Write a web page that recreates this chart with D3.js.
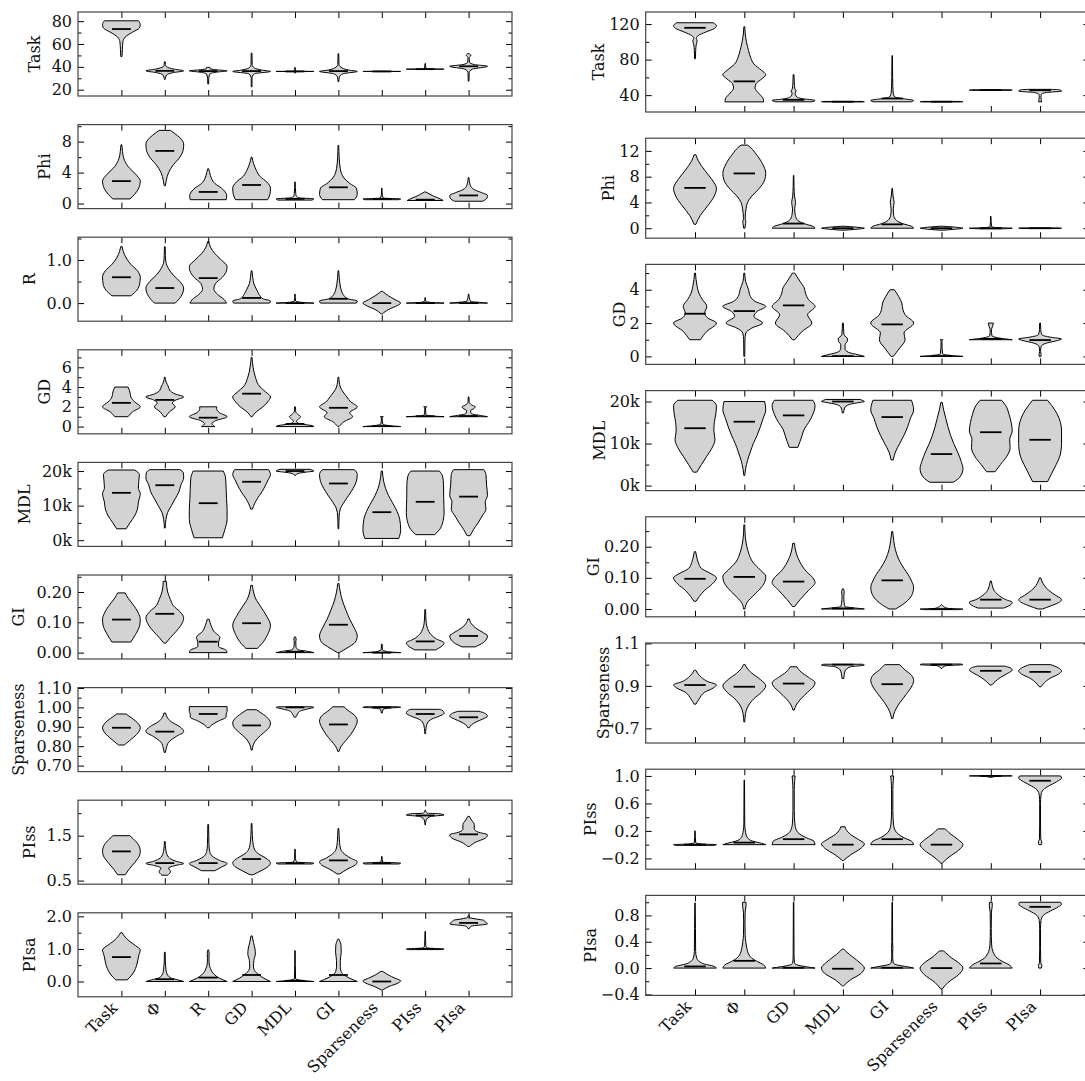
<!DOCTYPE html>
<html>
<head>
<meta charset="utf-8">
<script src="https://cdn.jsdelivr.net/npm/d3@7"></script>
<style>
  body { margin: 0; background: #fff; }
  text { font-family: 'DejaVu Serif', serif; }
</style>
</head>
<body>
<script>
// categories along x
const leftCats = ['Task', 'Φ', 'R', 'GD', 'MDL', 'GI', 'Sparseness', 'PIss', 'PIsa'];
const rightCats = ['Task', 'Φ', 'GD', 'MDL', 'GI', 'Sparseness', 'PIss', 'PIsa'];

// each violin: [median, [[value, relative half width], ...]]
const leftTask = [
  [73.1, [[49,0.03],[55,0.05],[62,0.08],[66,0.2],[70,0.55],[74,0.95],[77,1],[80.3,0.9]]],
  [36.5, [[29,0.02],[33,0.1],[35,0.45],[36.5,1],[38,0.5],[40,0.1],[42,0.03],[44.5,0.02]]],
  [36.3, [[25,0.02],[30,0.03],[34,0.1],[35.5,0.5],[36.5,1],[37.5,0.4],[38.4,0.1],[39,0.12],[39.6,0.05]]],
  [36.3, [[22.5,0.02],[30,0.02],[34,0.15],[36,1],[37,0.6],[39,0.15],[42,0.03],[52,0.02]]],
  [36, [[34.5,0.01],[35.8,0.05],[36,1],[36.2,0.05],[39.5,0.01]]],
  [36.3, [[27,0.02],[31,0.05],[34,0.25],[36,1],[37,0.6],[39,0.2],[42,0.03],[51.5,0.02]]],
  [36, [[35.85,0.05],[36,1],[36.15,0.05]]],
  [38, [[37.8,0.05],[38,1],[38.2,0.05],[43,0.01]]],
  [40.5, [[27.5,0.02],[35,0.03],[38,0.2],[40.5,1],[42,0.3],[44,0.05],[48,0.03],[50,0.12],[51.5,0.05]]]
];
const leftPhi = [
  [2.9, [[0.6,0.45],[1.2,0.7],[2,0.92],[2.9,1],[3.8,0.75],[4.8,0.35],[5.8,0.13],[6.7,0.06],[7.6,0.02]]],
  [6.8, [[2.3,0.03],[3,0.08],[4,0.2],[5,0.45],[6,0.8],[7,0.98],[7.7,1],[8.5,0.8],[9.1,0.5],[9.45,0.3]]],
  [1.5, [[0.5,0.95],[1,0.98],[1.5,0.9],[2,0.7],[2.6,0.35],[3.2,0.18],[4,0.08],[4.5,0.02]]],
  [2.4, [[0.5,0.85],[1.2,0.97],[2,1],[2.8,0.8],[3.5,0.45],[4.3,0.25],[5.2,0.1],[6,0.02]]],
  [0.6, [[0.45,0.9],[0.6,1],[0.75,0.2],[1,0.06],[1.3,0.04],[2.8,0.01]]],
  [2.1, [[0.5,0.85],[1.2,1],[2,0.95],[2.6,0.6],[3.3,0.3],[4.5,0.1],[6,0.04],[7.5,0.02]]],
  [0.6, [[0.5,0.9],[0.6,1],[0.7,0.1],[1,0.03],[2,0.01]]],
  [0.5, [[0.4,0.95],[0.6,0.8],[0.9,0.5],[1.2,0.25],[1.5,0.03]]],
  [1.05, [[0.3,0.75],[0.7,0.97],[1.05,1],[1.4,0.7],[1.8,0.3],[2.3,0.1],[3.35,0.02]]]
];
const leftR = [
  [0.6, [[0.17,0.5],[0.3,0.82],[0.45,0.97],[0.6,1],[0.75,0.85],[0.9,0.5],[1.05,0.25],[1.2,0.1],[1.31,0.04]]],
  [0.35, [[0,0.55],[0.15,0.85],[0.35,1],[0.5,0.8],[0.65,0.45],[0.8,0.2],[0.95,0.06],[1.1,0.03],[1.31,0.02]]],
  [0.58, [[0,0.97],[0.08,0.85],[0.2,0.5],[0.32,0.3],[0.45,0.38],[0.6,0.75],[0.75,0.97],[0.85,1],[1,0.7],[1.15,0.35],[1.3,0.12],[1.43,0.03]]],
  [0.12, [[0,0.95],[0.05,1],[0.1,0.6],[0.2,0.4],[0.3,0.28],[0.45,0.12],[0.6,0.06],[0.75,0.02]]],
  [0, [[0,1],[0.02,0.3],[0.05,0.03],[0.21,0.01]]],
  [0.1, [[0,0.95],[0.05,1],[0.1,0.5],[0.2,0.25],[0.3,0.15],[0.45,0.08],[0.6,0.04],[0.75,0.02]]],
  [0, [[-0.25,0.03],[-0.15,0.35],[-0.05,0.85],[0,1],[0.08,0.7],[0.17,0.35],[0.25,0.1],[0.27,0.05]]],
  [0, [[0,1],[0.02,0.2],[0.05,0.02],[0.13,0.01]]],
  [0, [[0,1],[0.02,0.5],[0.04,0.1],[0.21,0.01]]]
];
const leftGD = [
  [2.4, [[1,0.35],[1.5,0.6],[2,1],[2.5,0.7],[3,0.5],[3.5,0.45],[4,0.35]]],
  [2.7, [[1,0.05],[1.5,0.25],[2,0.55],[2.4,0.4],[2.7,0.6],[3,1],[3.3,0.55],[3.7,0.25],[4,0.2],[4.5,0.07],[5,0.02]]],
  [0.9, [[0,0.35],[0.3,0.2],[0.6,0.4],[1,1],[1.4,0.6],[1.8,0.45],[2,0.45]]],
  [3.33, [[1,0.03],[1.5,0.25],[2,0.6],[2.5,0.85],[3,1],[3.5,0.75],[4,0.45],[5,0.2],[6,0.08],[7,0.02]]],
  [0.27, [[0,1],[0.1,0.9],[0.25,0.35],[0.5,0.08],[0.8,0.2],[1,0.3],[1.2,0.18],[1.5,0.04],[2,0.02]]],
  [1.9, [[0,0.03],[0.5,0.3],[1,0.75],[1.4,0.6],[2,1],[2.5,0.65],[3,0.45],[3.5,0.25],[4,0.1],[5,0.02]]],
  [0.05, [[0,1],[0.1,0.4],[0.25,0.05],[0.9,0.02],[1,0.08]]],
  [1.05, [[1,1],[1.1,0.2],[1.25,0.03],[1.9,0.02],[2,0.08]]],
  [1.07, [[1,1],[1.1,0.7],[1.3,0.15],[1.6,0.1],[1.85,0.3],[2,0.35],[2.2,0.15],[2.5,0.03],[3,0.02]]]
];
// MDL values in thousands
const leftMDL = [
  [13.7, [[3.3,0.25],[5,0.45],[7,0.7],[9,0.85],[11,0.9],[13.5,1],[15,0.9],[17,0.92],[19,0.95],[20.3,0.7]]],
  [15.9, [[3.5,0.02],[6,0.06],[8,0.15],[10,0.35],[12,0.55],[14,0.75],[16,0.85],[18,1],[19.5,0.98],[20.4,0.8]]],
  [10.7, [[0.7,0.75],[3,0.88],[6,1],[9,1],[12,0.97],[15,0.95],[18,0.92],[20,0.8]]],
  [16.9, [[9,0.05],[10.5,0.15],[12,0.3],[14,0.55],[16,0.75],[17.5,0.88],[19,1],[20.4,0.9]]],
  [20, [[18.8,0.04],[19.3,0.15],[19.7,0.6],[20,1],[20.3,0.9],[20.5,0.8]]],
  [16.4, [[3.3,0.02],[7,0.04],[9,0.1],[11,0.3],[13,0.55],[15,0.78],[17,0.95],[19,1],[20.4,0.85]]],
  [8.1, [[0.5,0.9],[3,1],[6,0.95],[9,0.75],[11,0.55],[13,0.35],[15,0.2],[17,0.1],[20,0.03]]],
  [11.1, [[1.6,0.5],[3,0.75],[5,0.92],[8,1],[12,0.98],[16,0.97],[18.5,0.92],[20,0.75]]],
  [12.6, [[1.3,0.08],[3,0.25],[5,0.5],[7,0.72],[9,0.92],[11,0.88],[13,1],[16,0.95],[19,0.92],[20.4,0.8]]]
];
const leftGI = [
  [0.109, [[0.035,0.5],[0.06,0.75],[0.09,0.97],[0.11,1],[0.13,0.9],[0.16,0.6],[0.18,0.35],[0.197,0.2]]],
  [0.128, [[0.031,0.05],[0.05,0.3],[0.07,0.6],[0.09,0.85],[0.115,1],[0.135,0.8],[0.155,0.45],[0.175,0.3],[0.2,0.15],[0.235,0.08]]],
  [0.036, [[0,1],[0.008,0.95],[0.02,0.55],[0.035,0.55],[0.05,0.62],[0.07,0.3],[0.09,0.15],[0.11,0.05]]],
  [0.097, [[0.014,0.3],[0.03,0.55],[0.06,0.85],[0.09,1],[0.12,0.8],[0.15,0.5],[0.18,0.2],[0.2,0.1],[0.222,0.04]]],
  [0.003, [[0,1],[0.004,0.7],[0.01,0.15],[0.02,0.05],[0.035,0.04],[0.045,0.06],[0.052,0.02]]],
  [0.092, [[0,0.05],[0.015,0.45],[0.035,0.9],[0.055,1],[0.08,0.85],[0.11,0.6],[0.14,0.4],[0.17,0.22],[0.2,0.1],[0.228,0.03]]],
  [0, [[0,1],[0.003,0.3],[0.01,0.03],[0.028,0.02]]],
  [0.037, [[0.009,0.55],[0.02,0.85],[0.032,1],[0.045,0.6],[0.06,0.3],[0.08,0.12],[0.1,0.05],[0.142,0.02]]],
  [0.055, [[0.019,0.35],[0.03,0.7],[0.045,0.95],[0.055,1],[0.065,0.8],[0.08,0.4],[0.095,0.15],[0.111,0.04]]]
];
const leftSparse = [
  [0.895, [[0.806,0.15],[0.83,0.45],[0.86,0.8],[0.895,1],[0.93,0.75],[0.955,0.4],[0.966,0.25]]],
  [0.875, [[0.768,0.03],[0.79,0.08],[0.82,0.2],[0.85,0.6],[0.875,1],[0.9,0.8],[0.925,0.35],[0.95,0.12],[0.971,0.04]]],
  [0.966, [[0.895,0.05],[0.91,0.2],[0.93,0.55],[0.95,0.95],[0.965,0.95],[0.98,1],[1.004,1]]],
  [0.907, [[0.78,0.03],[0.81,0.1],[0.84,0.3],[0.87,0.65],[0.9,0.95],[0.92,1],[0.95,0.8],[0.975,0.45],[0.988,0.25]]],
  [1.0, [[0.949,0.03],[0.96,0.1],[0.98,0.25],[0.995,0.8],[1.0,1],[1.003,0.9]]],
  [0.912, [[0.773,0.03],[0.8,0.15],[0.83,0.4],[0.86,0.65],[0.9,0.9],[0.93,1],[0.96,0.85],[0.985,0.5],[1.003,0.3]]],
  [1.0, [[0.971,0.02],[0.99,0.08],[0.998,0.6],[1.0,1],[1.003,0.9]]],
  [0.966, [[0.864,0.02],[0.89,0.04],[0.92,0.12],[0.94,0.35],[0.955,0.75],[0.97,1],[0.985,0.9],[0.99,0.75]]],
  [0.949, [[0.895,0.04],[0.91,0.15],[0.925,0.4],[0.94,0.75],[0.955,1],[0.97,0.85],[0.98,0.55]]]
];
const leftPIss = [
  [1.15, [[0.63,0.2],[0.75,0.4],[0.9,0.7],[1.05,0.95],[1.15,1],[1.3,0.9],[1.42,0.65],[1.5,0.45]]],
  [0.89, [[0.62,0.15],[0.7,0.3],[0.78,0.2],[0.84,0.6],[0.88,1],[0.93,0.6],[1,0.25],[1.1,0.1],[1.2,0.05],[1.37,0.02]]],
  [0.89, [[0.72,0.35],[0.8,0.7],[0.88,1],[0.95,0.6],[1.05,0.2],[1.15,0.08],[1.3,0.04],[1.5,0.03],[1.75,0.02]]],
  [0.98, [[0.63,0.08],[0.72,0.5],[0.82,0.9],[0.9,1],[1,0.75],[1.1,0.35],[1.2,0.15],[1.35,0.07],[1.5,0.04],[1.77,0.02]]],
  [0.89, [[0.87,0.9],[0.89,1],[0.91,0.1],[1,0.02],[1.2,0.01]]],
  [0.95, [[0.65,0.08],[0.75,0.45],[0.85,0.9],[0.92,1],[1,0.65],[1.1,0.3],[1.2,0.12],[1.35,0.06],[1.5,0.04],[1.66,0.02]]],
  [0.89, [[0.87,0.9],[0.89,1],[0.91,0.05],[1.04,0.01]]],
  [1.95, [[1.74,0.01],[1.85,0.05],[1.93,0.3],[1.96,1],[1.99,0.7],[2,0.1],[2.07,0.01]]],
  [1.53, [[1.26,0.05],[1.35,0.35],[1.45,0.9],[1.52,1],[1.58,0.5],[1.65,0.3],[1.75,0.3],[1.85,0.15],[1.93,0.04]]]
];
const leftPIsa = [
  [0.75, [[0.05,0.3],[0.2,0.55],[0.4,0.75],[0.6,0.85],[0.8,0.92],[0.97,1],[1.1,0.75],[1.25,0.4],[1.4,0.15],[1.5,0.04]]],
  [0.07, [[0,1],[0.05,0.7],[0.1,0.35],[0.2,0.15],[0.3,0.08],[0.45,0.05],[0.6,0.03],[0.9,0.02]]],
  [0.12, [[0,1],[0.1,0.6],[0.2,0.35],[0.3,0.2],[0.4,0.12],[0.5,0.06],[0.7,0.04],[0.85,0.05],[0.97,0.02]]],
  [0.2, [[0,1],[0.1,0.65],[0.2,0.4],[0.3,0.2],[0.45,0.1],[0.65,0.12],[0.85,0.2],[1,0.18],[1.2,0.1],[1.4,0.03]]],
  [0.02, [[0,1],[0.04,0.3],[0.08,0.03],[0.95,0.01]]],
  [0.2, [[0,1],[0.1,0.6],[0.2,0.3],[0.3,0.15],[0.45,0.1],[0.65,0.1],[0.9,0.15],[1.1,0.14],[1.3,0.03]]],
  [0, [[-0.26,0.04],[-0.15,0.4],[-0.05,0.85],[0.02,1],[0.1,0.7],[0.2,0.35],[0.31,0.05]]],
  [1, [[0.98,0.9],[1,1],[1.03,0.1],[1.1,0.03],[1.3,0.02],[1.54,0.01]]],
  [1.8, [[1.62,0.03],[1.7,0.15],[1.77,1],[1.82,0.9],[1.88,0.8],[1.92,0.4],[1.97,0.05],[2.03,0.02]]]
];

const rightTask = [
  [115.8, [[81,0.02],[90,0.03],[97,0.06],[101,0.1],[104,0.06],[107,0.15],[111,0.5],[115,0.9],[118,1],[121.5,0.85]]],
  [55.5, [[32.4,0.9],[36,0.88],[40,0.75],[44,0.6],[48,0.5],[53,0.55],[58,0.8],[63,1],[68,0.8],[75,0.45],[82,0.3],[90,0.2],[100,0.1],[110,0.04],[117,0.02]]],
  [34.7, [[32.5,0.85],[34,1],[36,0.4],[38,0.15],[42,0.07],[45,0.12],[47,0.06],[55,0.03],[63,0.02]]],
  [32.6, [[32.3,0.9],[32.6,1],[32.9,0.9]]],
  [36.2, [[32.5,0.9],[34,1],[36,0.5],[38,0.12],[42,0.05],[50,0.03],[60,0.02],[84.5,0.01]]],
  [32.6, [[32.3,0.9],[32.6,1],[32.9,0.9]]],
  [45.7, [[45.4,0.9],[45.7,1],[46,0.9]]],
  [45.5, [[32.4,0.07],[35,0.05],[38,0.04],[41,0.06],[43,0.3],[44.5,1],[46,0.9],[46.5,0.5]]]
];
const rightPhi = [
  [6.26, [[0.6,0.04],[2,0.25],[3.5,0.6],[5,0.9],[6.2,1],[7.5,0.8],[9,0.45],[10.5,0.15],[11.4,0.04]]],
  [8.5, [[0,0.03],[0.5,0.05],[1,0.07],[1.5,0.04],[3,0.08],[4,0.15],[5,0.35],[6,0.65],[7.5,0.95],[8.5,1],[10,0.85],[11.5,0.55],[12.5,0.3],[12.9,0.15]]],
  [0.72, [[0,1],[0.3,0.9],[0.7,0.5],[1.2,0.2],[2,0.08],[3,0.05],[4,0.09],[5,0.04],[6.5,0.02],[8.2,0.01]]],
  [0, [[-0.3,0.1],[-0.1,0.8],[0,1],[0.1,0.8],[0.3,0.1]]],
  [0.6, [[0,1],[0.3,0.9],[0.7,0.5],[1.2,0.2],[2,0.07],[3,0.05],[4,0.09],[5,0.04],[6.2,0.01]]],
  [0, [[-0.3,0.1],[-0.1,0.8],[0,1],[0.1,0.8],[0.3,0.1]]],
  [0, [[-0.1,0.5],[0,1],[0.1,0.2],[0.3,0.03],[1.85,0.01]]],
  [0, [[-0.05,0.9],[0,1],[0.05,0.9]]]
];
const rightGD = [
  [2.56, [[1,0.25],[1.5,0.55],[2,1],[2.3,0.6],[2.6,0.45],[3,0.55],[3.4,0.35],[3.8,0.18],[4.2,0.1],[4.6,0.05],[5,0.02]]],
  [2.72, [[0,0.02],[1,0.03],[1.4,0.07],[1.7,0.35],[2,0.85],[2.4,0.45],[2.7,0.6],[3,1],[3.3,0.5],[3.7,0.25],[4,0.2],[4.5,0.06],[5,0.02]]],
  [3.06, [[1,0.05],[1.5,0.4],[2,0.85],[2.5,0.65],[3,1],[3.4,0.7],[3.8,0.55],[4.1,0.5],[4.5,0.3],[5,0.05]]],
  [0.02, [[0,1],[0.1,0.7],[0.25,0.25],[0.45,0.1],[0.7,0.1],[0.9,0.2],[1.05,0.22],[1.3,0.05],[2,0.02]]],
  [1.92, [[0,0.05],[0.5,0.35],[1,0.6],[1.4,0.55],[2,1],[2.5,0.6],[2.8,0.5],[3.2,0.45],[3.6,0.3],[4,0.1]]],
  [0.02, [[0,1],[0.05,0.5],[0.15,0.05],[0.9,0.02],[1,0.06]]],
  [1.05, [[1,1],[1.1,0.4],[1.25,0.05],[1.6,0.03],[1.8,0.08],[2,0.12]]],
  [0.98, [[0,0.04],[0.1,0.05],[0.3,0.02],[0.6,0.05],[0.8,0.3],[0.95,0.8],[1.05,1],[1.15,0.5],[1.3,0.08],[1.6,0.03],[2,0.02]]]
];
// MDL values in thousands
const rightMDL = [
  [13.65, [[3.2,0.08],[5,0.3],[7,0.55],[9,0.8],[11,0.93],[13,0.88],[15,0.9],[17,0.97],[19,1],[20.3,0.8]]],
  [15.2, [[2.4,0.02],[4,0.06],[6,0.15],[8,0.28],[10,0.42],[12,0.6],[14,0.75],[16,0.88],[18,1],[20,0.95]]],
  [16.7, [[9.1,0.2],[10.5,0.3],[12,0.4],[13.5,0.5],[15,0.7],[17,0.9],[19,1],[20.3,0.9]]],
  [20, [[17.3,0.03],[18.5,0.08],[19.3,0.3],[19.8,0.8],[20,1],[20.3,0.9],[20.5,0.8]]],
  [16.3, [[6.1,0.05],[8,0.15],[10,0.35],[12,0.55],[14,0.72],[16,0.85],[18,1],[20.3,0.9]]],
  [7.5, [[0.8,0.55],[2,0.85],[4,1],[6,0.9],[8,0.75],[10,0.57],[12,0.42],[14,0.3],[16,0.2],[18,0.1],[19.8,0.03]]],
  [12.7, [[3.3,0.2],[5,0.45],[7,0.75],[9,0.9],[11,0.88],[13,1],[15,0.95],[17,0.85],[19,0.7],[20.3,0.5]]],
  [10.9, [[0.95,0.35],[3,0.55],[5,0.75],[7,0.92],[10,1],[13,1],[15,0.95],[17,0.8],[19,0.55],[20.3,0.35]]]
];
const rightGI = [
  [0.097, [[0.025,0.05],[0.04,0.2],[0.06,0.45],[0.08,0.8],[0.1,1],[0.115,0.7],[0.13,0.3],[0.15,0.15],[0.17,0.07],[0.184,0.03]]],
  [0.103, [[0,0.03],[0.02,0.12],[0.045,0.45],[0.07,0.8],[0.09,0.97],[0.105,1],[0.125,0.75],[0.15,0.4],[0.18,0.2],[0.2,0.12],[0.23,0.05],[0.27,0.02]]],
  [0.088, [[0.008,0.05],[0.03,0.3],[0.06,0.7],[0.085,1],[0.1,0.9],[0.12,0.6],[0.15,0.3],[0.18,0.12],[0.211,0.04]]],
  [0.002, [[0,1],[0.003,0.6],[0.008,0.1],[0.02,0.06],[0.04,0.04],[0.055,0.06],[0.065,0.02]]],
  [0.092, [[0,0.15],[0.02,0.6],[0.05,0.95],[0.07,1],[0.09,0.9],[0.11,0.75],[0.13,0.55],[0.16,0.3],[0.19,0.15],[0.22,0.07],[0.249,0.02]]],
  [0, [[-0.002,0.8],[0,1],[0.002,0.3],[0.014,0.01]]],
  [0.03, [[0.003,0.6],[0.015,0.95],[0.022,1],[0.03,0.7],[0.045,0.35],[0.06,0.15],[0.075,0.07],[0.09,0.02]]],
  [0.03, [[0,0.1],[0.01,0.5],[0.02,0.85],[0.03,1],[0.045,0.7],[0.06,0.4],[0.075,0.2],[0.09,0.08],[0.1,0.03]]]
];
const rightSparse = [
  [0.904, [[0.814,0.04],[0.84,0.2],[0.87,0.45],[0.89,0.85],[0.905,1],[0.92,0.6],[0.94,0.3],[0.96,0.12],[0.974,0.03]]],
  [0.896, [[0.73,0.02],[0.77,0.06],[0.8,0.15],[0.84,0.45],[0.87,0.8],[0.9,1],[0.93,0.75],[0.96,0.35],[0.98,0.15],[1,0.04]]],
  [0.911, [[0.786,0.03],[0.81,0.12],[0.84,0.35],[0.87,0.65],[0.9,0.95],[0.915,1],[0.94,0.7],[0.965,0.35],[0.99,0.15]]],
  [1.0, [[0.935,0.04],[0.95,0.06],[0.97,0.1],[0.99,0.35],[0.998,1],[1.002,0.9]]],
  [0.908, [[0.746,0.03],[0.78,0.12],[0.82,0.35],[0.86,0.65],[0.9,0.92],[0.925,1],[0.95,0.9],[0.975,0.6],[1,0.35]]],
  [1.0, [[0.982,0.02],[0.995,0.2],[1,1],[1.003,0.9]]],
  [0.971, [[0.904,0.04],[0.92,0.2],[0.94,0.45],[0.96,0.8],[0.975,1],[0.985,0.9],[0.993,0.65]]],
  [0.966, [[0.896,0.04],[0.915,0.2],[0.935,0.45],[0.955,0.85],[0.97,1],[0.985,0.85],[1,0.5]]]
];
const rightPIss = [
  [0, [[-0.01,0.9],[0,1],[0.01,0.3],[0.03,0.03],[0.2,0.01]]],
  [0.03, [[0,1],[0.02,0.8],[0.05,0.4],[0.1,0.15],[0.15,0.08],[0.2,0.05],[0.3,0.02],[0.94,0.01]]],
  [0.08, [[0,1],[0.05,0.95],[0.1,0.6],[0.15,0.3],[0.2,0.15],[0.3,0.06],[0.5,0.03],[0.8,0.03],[0.93,0.05],[1,0.07]]],
  [0, [[-0.23,0.03],[-0.15,0.35],[-0.05,0.85],[0.01,1],[0.08,0.7],[0.15,0.35],[0.22,0.15],[0.26,0.1]]],
  [0.08, [[0,1],[0.05,0.9],[0.1,0.55],[0.15,0.3],[0.2,0.15],[0.3,0.06],[0.5,0.03],[0.8,0.03],[0.93,0.05],[1,0.07]]],
  [0, [[-0.27,0.03],[-0.18,0.35],[-0.08,0.8],[0,1],[0.08,0.75],[0.16,0.4],[0.22,0.2],[0.23,0.15]]],
  [1, [[0.98,0.05],[0.995,0.3],[1,1],[1.003,0.9]]],
  [0.93, [[0,0.06],[0.04,0.08],[0.08,0.03],[0.3,0.02],[0.6,0.02],[0.72,0.04],[0.8,0.15],[0.87,0.5],[0.93,0.85],[0.97,1],[1,0.95]]]
];
const rightPIsa = [
  [0.025, [[0,1],[0.03,0.85],[0.06,0.45],[0.1,0.2],[0.15,0.08],[0.25,0.03],[0.6,0.02],[0.99,0.01]]],
  [0.11, [[0,1],[0.05,0.9],[0.1,0.6],[0.15,0.35],[0.2,0.22],[0.3,0.12],[0.4,0.07],[0.5,0.04],[0.7,0.03],[0.85,0.04],[0.95,0.08],[1,0.08]]],
  [0.005, [[0,1],[0.02,0.6],[0.05,0.15],[0.08,0.04],[0.2,0.02],[1,0.01]]],
  [-0.01, [[-0.27,0.03],[-0.18,0.35],[-0.08,0.85],[0,1],[0.08,0.8],[0.17,0.45],[0.25,0.15],[0.29,0.03]]],
  [0.005, [[0,1],[0.02,0.7],[0.05,0.2],[0.08,0.05],[0.2,0.02],[0.3,0.03],[0.4,0.02],[1,0.01]]],
  [0, [[-0.32,0.03],[-0.22,0.3],[-0.1,0.8],[0,1],[0.08,0.8],[0.16,0.45],[0.23,0.2],[0.26,0.1]]],
  [0.07, [[0,1],[0.05,0.85],[0.1,0.55],[0.15,0.3],[0.2,0.18],[0.25,0.1],[0.35,0.04],[0.6,0.02],[0.85,0.03],[0.95,0.07],[1,0.06]]],
  [0.93, [[0,0.06],[0.04,0.08],[0.08,0.03],[0.3,0.02],[0.6,0.02],[0.72,0.04],[0.8,0.15],[0.87,0.5],[0.93,0.85],[0.97,1],[1,0.95]]]
];

// y axes: labels, ranges and ticks
const leftYLabels = ['Task', 'Phi', 'R', 'GD', 'MDL', 'GI', 'Sparseness', 'PIss', 'PIsa'];
const leftDomains = [[14.5, 88], [-0.65, 10.2], [-0.42, 1.53], [-0.73, 7.77], [-1.8, 22.5], [-0.021, 0.256], [0.669, 1.102], [0.42, 2.29], [-0.47, 2.11]];
const leftMajor = [[20, 40, 60, 80], [0, 4, 8], [0, 1], [0, 2, 4, 6], [0, 10, 20], [0, 0.1, 0.2], [0.7, 0.8, 0.9, 1.0, 1.1], [0.5, 1.5], [0, 1, 2]];
const leftMinor = [[30, 50, 70], [2, 6, 10], [0.5, 1.5], [1, 3, 5, 7], [5, 15], [0.05, 0.15, 0.25], [0.75, 0.85, 0.95, 1.05], [1, 2], [0.5, 1.5]];
const leftFormats = ['d', 'd', '.1f', 'd', 'k', '.2f', '.2f', '.1f', '.1f'];

const rightYLabels = ['Task', 'Phi', 'GD', 'MDL', 'GI', 'Sparseness', 'PIss', 'PIsa'];
const rightDomains = [[21, 133.6], [-1.55, 13.97], [-0.48, 5.52], [-1.19, 22.6], [-0.025, 0.296], [0.631, 1.102], [-0.357, 1.098], [-0.415, 1.104]];
const rightMajor = [[40, 80, 120], [0, 4, 8, 12], [0, 2, 4], [0, 10, 20], [0, 0.1, 0.2], [0.7, 0.9, 1.1], [-0.2, 0.2, 0.6, 1.0], [-0.4, 0, 0.4, 0.8]];
const rightMinor = [[60, 100], [2, 6, 10], [1, 3, 5], [5, 15], [0.05, 0.15, 0.25], [0.8, 1.0], [0, 0.4, 0.8], [-0.2, 0.2, 0.6, 1.0]];
const rightFormats = ['d', 'd', 'd', 'k', '.2f', '.1f', '.1f', '.1f'];

const W = 1085, H = 1081;
const violinWidth = 0.87;
const fontSize = 16;

const svg = d3.select('body').append('svg')
  .attr('width', W)
  .attr('height', H);

svg.append('rect').attr('width', W).attr('height', H).attr('fill', '#fff');

function makeFormat(code) {
  if (code === 'k') return d => d3.format('d')(d) + 'k';
  return d3.format(code);
}

function styleAxis(g) {
  g.select('.domain').remove();
  g.selectAll('.tick line').attr('stroke', '#000').attr('stroke-width', 1);
  g.selectAll('text')
    .attr('font-family', 'DejaVu Serif')
    .attr('font-size', fontSize)
    .attr('fill', '#111');
}

function drawColumn(col) {
  let x = d3.scaleLinear()
    .domain([0, col.cats.length + 1])
    .range([col.left, col.right]);
  let unit = x(1) - x(0);
  let halfW = unit * violinWidth / 2;

  col.panels.forEach((violins, i) => {
    let top = col.top + i * col.step;
    let bottom = top + col.height;
    let y = d3.scaleLinear().domain(col.domains[i]).range([bottom, top]);
    let g = svg.append('g').attr('class', 'panel');

    // Violin bodies
    violins.forEach((v, j) => {
      let cx = x(j + 1);
      let area = d3.area()
        .curve(d3.curveMonotoneY)
        .y(d => y(d[0]))
        .x0(d => cx - d[1] * halfW)
        .x1(d => cx + d[1] * halfW);
      g.append('path')
        .attr('d', area(v[1]))
        .attr('fill', '#d3d3d3')
        .attr('stroke', '#000')
        .attr('stroke-width', 1);
    });

    // Medians
    g.selectAll('.median')
      .data(violins)
      .enter()
      .append('line')
      .attr('class', 'median')
      .attr('x1', (d, j) => x(j + 1) - halfW / 2)
      .attr('x2', (d, j) => x(j + 1) + halfW / 2)
      .attr('y1', d => y(d[0]))
      .attr('y2', d => y(d[0]))
      .attr('stroke', '#000')
      .attr('stroke-width', 1.8);

    let fmt = makeFormat(col.formats[i]);
    let catTicks = d3.range(1, col.cats.length + 1);

    // Ticks pointing inwards on all four sides
    let leftAxis = g.append('g')
      .attr('transform', 'translate(' + col.left + ',0)')
      .call(d3.axisLeft(y).tickValues(col.major[i]).tickSize(-6).tickPadding(6).tickFormat(fmt))
      .call(styleAxis);
    g.append('g')
      .attr('transform', 'translate(' + col.left + ',0)')
      .call(d3.axisLeft(y).tickValues(col.minor[i]).tickSize(-3.5).tickFormat(''))
      .call(styleAxis);
    g.append('g')
      .attr('transform', 'translate(' + col.right + ',0)')
      .call(d3.axisRight(y).tickValues(col.major[i]).tickSize(-6).tickFormat(''))
      .call(styleAxis);
    g.append('g')
      .attr('transform', 'translate(' + col.right + ',0)')
      .call(d3.axisRight(y).tickValues(col.minor[i]).tickSize(-3.5).tickFormat(''))
      .call(styleAxis);
    g.append('g')
      .attr('transform', 'translate(0,' + bottom + ')')
      .call(d3.axisBottom(x).tickValues(catTicks).tickSize(-6).tickFormat(''))
      .call(styleAxis);
    g.append('g')
      .attr('transform', 'translate(0,' + top + ')')
      .call(d3.axisTop(x).tickValues(catTicks).tickSize(-6).tickFormat(''))
      .call(styleAxis);

    // Frame
    g.append('rect')
      .attr('x', col.left)
      .attr('y', top)
      .attr('width', col.right - col.left)
      .attr('height', col.height)
      .attr('fill', 'none')
      .attr('stroke', '#444')
      .attr('stroke-width', 1.2);

    // Y label left of the tick labels
    let box = leftAxis.node().getBBox();
    let lx = col.left + box.x - col.labelGap;
    g.append('text')
      .attr('transform', 'translate(' + lx + ',' + (top + col.height / 2) + ') rotate(-90)')
      .attr('text-anchor', 'middle')
      .attr('font-size', fontSize)
      .attr('fill', '#111')
      .text(col.yLabels[i]);

    // Category labels under the last panel
    if (i === col.panels.length - 1) {
      g.selectAll('.cat')
        .data(col.cats)
        .enter()
        .append('text')
        .attr('class', 'cat')
        .attr('text-anchor', 'end')
        .attr('font-size', fontSize)
        .attr('fill', '#111')
        .attr('transform', (d, j) => 'translate(' + (x(j + 1) - 2.7) + ',' + (bottom + 12) + ') rotate(-45)')
        .text(d => d);
    }
  });
}

drawColumn({
  cats: leftCats,
  panels: [leftTask, leftPhi, leftR, leftGD, leftMDL, leftGI, leftSparse, leftPIss, leftPIsa],
  yLabels: leftYLabels,
  domains: leftDomains,
  major: leftMajor,
  minor: leftMinor,
  formats: leftFormats,
  left: 78, right: 512, top: 12, step: 112.6, height: 84, labelGap: 12
});

drawColumn({
  cats: rightCats,
  panels: [rightTask, rightPhi, rightGD, rightMDL, rightGI, rightSparse, rightPIss, rightPIsa],
  yLabels: rightYLabels,
  domains: rightDomains,
  major: rightMajor,
  minor: rightMinor,
  formats: rightFormats,
  left: 645.7, right: 1089.4, top: 12, step: 126.2, height: 100, labelGap: 5
});
</script>
</body>
</html>
